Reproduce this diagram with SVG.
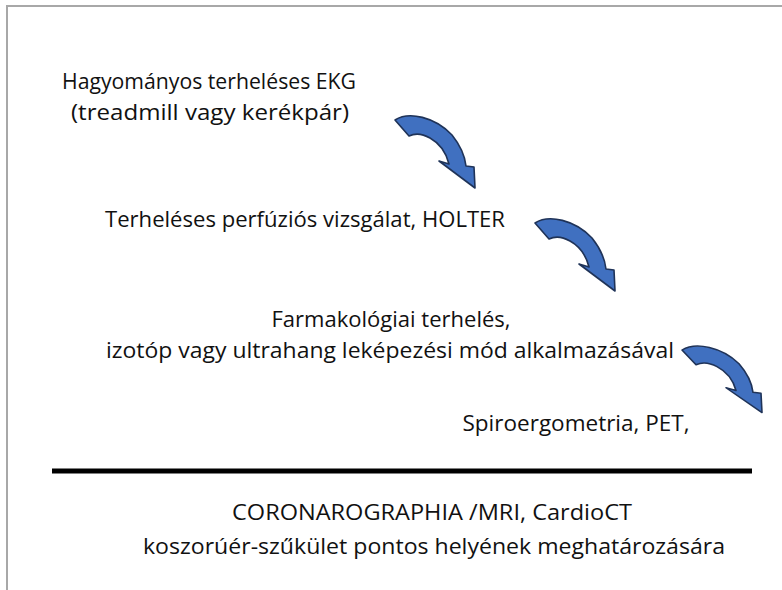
<svg xmlns="http://www.w3.org/2000/svg" width="782" height="590" viewBox="0 0 782 590">
<defs>
<style>
.t{font-family:"Open Sans","Liberation Sans",sans-serif;font-size:22px;fill:#111111;text-anchor:middle}
.arr{fill:#4070c0;stroke:#1f3358;stroke-width:1.6;stroke-linejoin:round}
</style>
<path id="arrowShape" d="M0,0 C14,-9 40,-3 57,15 C65,25 70,37 71,46 L79,47 L80,68 L44,41 L54,44 C51,32 44,23 35,18 C28,14 20,13 14,16 Z"/>
</defs>
<rect x="0" y="0" width="782" height="590" fill="#ffffff"/>
<g id="frame" fill="none" stroke="#a8a8a8" stroke-width="2">
<line x1="6" y1="6" x2="782" y2="6"/>
<line x1="7" y1="6" x2="7" y2="590"/>
</g>
<g id="node-ekg">
<text class="t" x="209" y="89" textLength="294" lengthAdjust="spacingAndGlyphs">Hagyományos terheléses EKG</text>
<text class="t" x="210" y="120" textLength="278" lengthAdjust="spacingAndGlyphs">(treadmill vagy kerékpár)</text>
</g>
<g id="node-perfusion">
<text class="t" x="305" y="227" textLength="400" lengthAdjust="spacingAndGlyphs">Terheléses perfúziós vizsgálat, HOLTER</text>
</g>
<g id="node-pharma">
<text class="t" x="391" y="327" textLength="239" lengthAdjust="spacingAndGlyphs">Farmakológiai terhelés,</text>
<text class="t" x="390" y="358" textLength="568" lengthAdjust="spacingAndGlyphs">izotóp vagy ultrahang leképezési mód alkalmazásával</text>
</g>
<g id="node-spiro">
<text class="t" x="576" y="431" textLength="227" lengthAdjust="spacingAndGlyphs">Spiroergometria, PET,</text>
</g>
<g id="divider">
<line x1="52" y1="471" x2="752" y2="471" stroke="#000000" stroke-width="5"/>
</g>
<g id="node-coronarography">
<text class="t" x="432" y="520" textLength="400" lengthAdjust="spacingAndGlyphs">CORONAROGRAPHIA /MRI, CardioCT</text>
<text class="t" x="434" y="554" textLength="582" lengthAdjust="spacingAndGlyphs">koszorúér-szűkület pontos helyének meghatározására</text>
</g>
<g id="connectors">
<use href="#arrowShape" class="arr" transform="translate(395,120)"/>
<use href="#arrowShape" class="arr" transform="translate(535,223)"/>
<use href="#arrowShape" class="arr" transform="translate(682,350) scale(1,0.92)"/>
</g>
</svg>
